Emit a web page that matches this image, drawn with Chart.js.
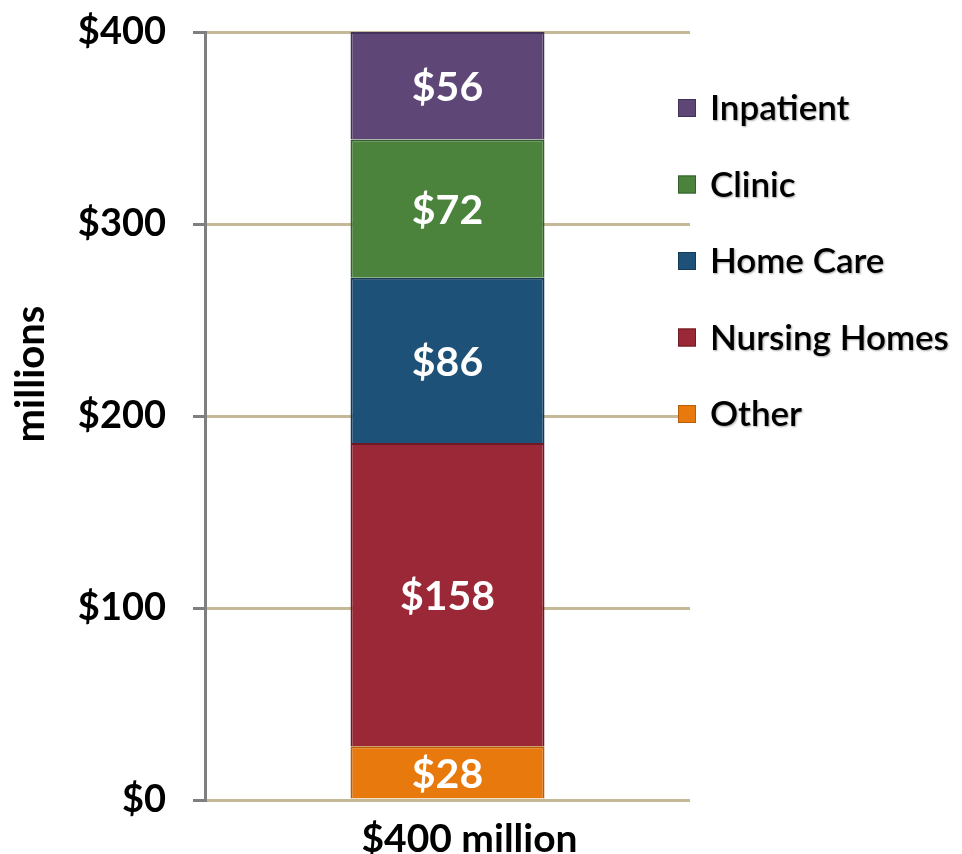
<!DOCTYPE html>
<html>
<head>
<meta charset="utf-8">
<script src="https://cdn.jsdelivr.net/npm/chart.js@4/dist/chart.umd.min.js"></script>
<style>
  html, body { margin: 0; padding: 0; background: #fff; }
  #wrap { width: 962px; height: 854px; position: relative; }
</style>
</head>
<body>
<div id="wrap"><canvas id="chartContainer"></canvas></div>
<script>
"use strict";

// 1: data
const categories = ['$400 million'];
const seriesNames = ['Other', 'Nursing Homes', 'Home Care', 'Clinic', 'Inpatient'];
const other = [28];
const nursingHomes = [158];
const homeCare = [86];
const clinic = [72];
const inpatient = [56];
const yTicks = [0, 100, 200, 300, 400];

const colors = ['#e8790c', '#9b2836', '#1e5177', '#4b833c', '#5e4677'];
const edges = ['#b85e08', '#6e1a24', '#143a56', '#34602a', '#43315a'];

// 2: plugins
const valueLabels = {
  id: 'valueLabels',
  afterDatasetsDraw(chart) {
    const ctx = chart.ctx;
    ctx.save();
    ctx.font = 'bold 41px Lato';
    ctx.fillStyle = '#ffffff';
    ctx.textAlign = 'center';
    ctx.textBaseline = 'middle';
    chart.data.datasets.forEach((ds, i) => {
      chart.getDatasetMeta(i).data.forEach((bar, j) => {
        const p = bar.getProps(['x', 'y', 'base'], true);
        ctx.fillText('$' + ds.data[j], p.x, (p.y + p.base) / 2 + 2);
      });
    });
    ctx.restore();
  }
};

// legend and axis title drawn by hand so the plot area can stay where it is
const sideLegend = {
  id: 'sideLegend',
  afterDraw(chart) {
    const ctx = chart.ctx;
    const sets = chart.data.datasets.slice().reverse();
    ctx.save();
    ctx.font = '600 35px Lato';
    ctx.textBaseline = 'middle';
    ctx.textAlign = 'left';
    sets.forEach((ds, i) => {
      const y = 108 + i * 76.5;
      ctx.fillStyle = ds.backgroundColor;
      ctx.fillRect(678, y - 9, 18, 18);
      ctx.strokeStyle = ds.borderColor;
      ctx.lineWidth = 1;
      ctx.strokeRect(678.5, y - 8.5, 17, 17);
      ctx.shadowColor = 'rgba(0,0,0,0.35)';
      ctx.shadowOffsetX = 1;
      ctx.shadowOffsetY = 1;
      ctx.shadowBlur = 2;
      ctx.fillStyle = '#000';
      ctx.fillText(ds.label, 710, y + 1);
      ctx.shadowColor = 'transparent';
    });

    ctx.translate(31, 374);
    ctx.rotate(-Math.PI / 2);
    ctx.textAlign = 'center';
    ctx.font = 'bold 40px Lato';
    ctx.fillText('millions', 0, 0);
    ctx.restore();
  }
};

// 3: chart
const seriesData = [other, nursingHomes, homeCare, clinic, inpatient];
new Chart(document.getElementById('chartContainer'), {
  type: 'bar',
  data: {
    labels: categories,
    datasets: seriesNames.map((name, i) => ({
      label: name,
      data: seriesData[i],
      backgroundColor: colors[i],
      borderColor: edges[i],
      borderWidth: 2,
      barPercentage: 0.8,
      categoryPercentage: 0.5
    }))
  },
  options: {
    responsive: true,
    maintainAspectRatio: false,
    animation: false,
    layout: { padding: { top: 32, right: 272, left: 0, bottom: 0 } },
    plugins: {
      legend: { display: false },
      tooltip: { enabled: false }
    },
    scales: {
      x: {
        stacked: true,
        grid: { display: false },
        border: { display: false },
        ticks: {
          color: '#000',
          padding: 8,
          labelOffset: 22,
          font: { family: 'Lato', size: 39, weight: 'bold' }
        },
        afterFit(scale) {
          scale.height = 54;
          scale.paddingLeft = 0;
          scale.paddingRight = 0;
        }
      },
      y: {
        stacked: true,
        min: 0,
        max: 400,
        afterBuildTicks(scale) { scale.ticks = yTicks.map(v => ({ value: v })); },
        grid: {
          color: '#c4b994',
          lineWidth: 3,
          tickColor: '#7f7f7f',
          tickLength: 12
        },
        border: { display: true, color: '#7f7f7f', width: 3 },
        ticks: {
          color: '#000',
          padding: 27,
          font: { family: 'Lato', size: 38, weight: 'bold' },
          callback: v => '$' + v
        },
        afterFit(scale) {
          scale.width = 205;
          scale.paddingTop = 0;
          scale.paddingBottom = 0;
        }
      }
    }
  },
  plugins: [valueLabels, sideLegend]
});
</script>
</body>
</html>
